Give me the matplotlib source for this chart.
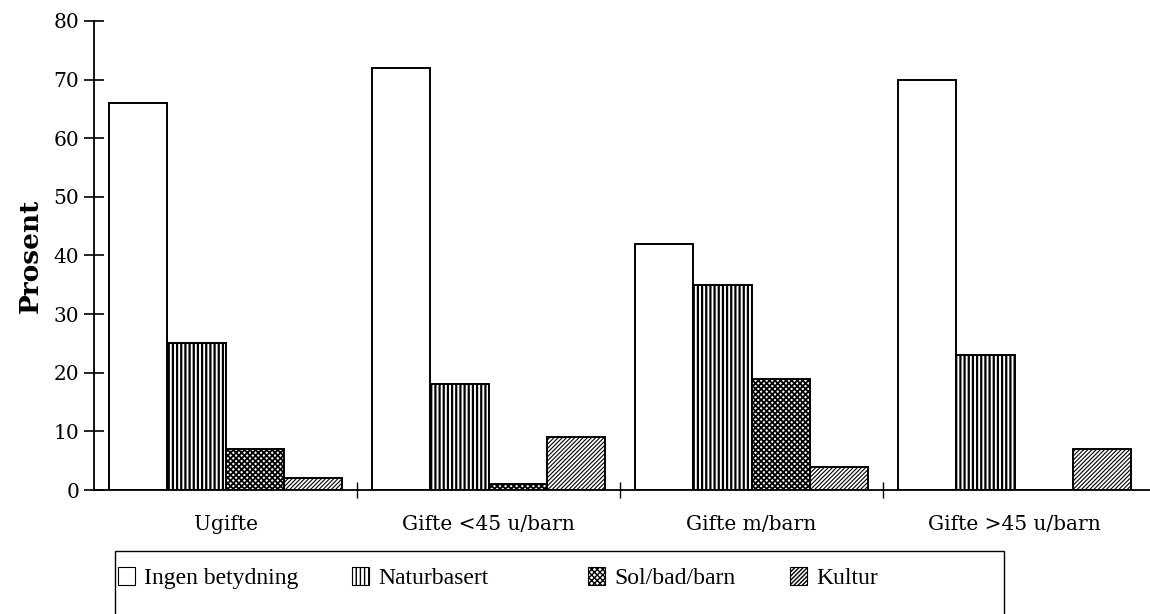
import matplotlib
matplotlib.use("Agg")
import matplotlib.pyplot as plt
from matplotlib.patches import Patch, Rectangle
import numpy as np

categories = ["Ugifte", "Gifte <45 u/barn", "Gifte m/barn", "Gifte >45 u/barn"]
series_names = ["Ingen betydning", "Naturbasert", "Sol/bad/barn", "Kultur"]
ingen = [66, 72, 42, 70]
natur = [25, 18, 35, 23]
sol = [7, 1, 19, 0]
kultur = [2, 9, 4, 7]
yticks = [0, 10, 20, 30, 40, 50, 60, 70, 80]

plt.rcParams['font.family'] = ['DejaVu Serif']

W, H = 1150, 614
fig = plt.figure(figsize=(W / 100, H / 100), dpi=100)
ax = fig.add_axes([94 / W, 1 - 490 / H, (W - 94) / W, (490 - 21) / H])

x = np.arange(len(categories))
bw = 0.222
styles = [
    dict(facecolor="white", hatch=None, hlw=1.0),
    dict(facecolor="white", hatch="||||", hlw=1.6),
    dict(facecolor="white", hatch="xxxxxx", hlw=1.3),
    dict(facecolor="white", hatch="////////", hlw=0.8),
]
all_series = [ingen, natur, sol, kultur]
offsets = (np.arange(4) - 1.5) * bw
handles = []
for vals, off, st, name in zip(all_series, offsets, styles, series_names):
    with plt.rc_context({'hatch.linewidth': st["hlw"]}):
        ax.bar(x + off, vals, width=bw, edgecolor="black", linewidth=1.4,
               facecolor=st["facecolor"], hatch=st["hatch"], zorder=2)
        handles.append(Patch(facecolor=st["facecolor"], hatch=st["hatch"],
                             edgecolor="black", linewidth=0.8, label=name))

ax.set_ylim(0, 80)
ax.set_xlim(-0.5, 3.515)
ax.spines['top'].set_visible(False)
ax.spines['right'].set_visible(False)
ax.spines['left'].set_linewidth(1.3)
ax.spines['bottom'].set_linewidth(1.3)

ax.set_yticks(yticks)
ax.tick_params(axis='y', direction='inout', length=15, width=1.2, labelsize=14.5, pad=3)

ax.set_xticks([0.5, 1.5, 2.5])
ax.set_xticklabels([])
ax.tick_params(axis='x', which='major', direction='inout', length=11, width=1.0)
ax.set_xticks(x, minor=True)
ax.set_xticklabels(categories, minor=True)
ax.tick_params(axis='x', which='minor', length=0, labelsize=14.5, pad=18)

ax.set_ylabel("Prosent", fontsize=19, fontweight='bold', labelpad=8)

# legend frame
frame = Rectangle((115 / W, -0.2), (1004 - 115) / W, 0.2 + 1 - 551 / H,
                  transform=fig.transFigure, fill=False, edgecolor="black",
                  linewidth=1.0, clip_on=False)
fig.patches.append(frame)

legend_x = [118, 352, 588, 790]
ly = 1 - 578 / H
for h, lx in zip(handles, legend_x):
    fig.legend([h], [h.get_label()], loc='center left', bbox_to_anchor=(lx / W, ly),
               frameon=False, borderpad=0, borderaxespad=0, handlelength=0.7,
               handleheight=0.8, handletextpad=0.4,
               prop=dict(family='Liberation Serif', size=17))

fig.savefig("out.png", dpi=100)
